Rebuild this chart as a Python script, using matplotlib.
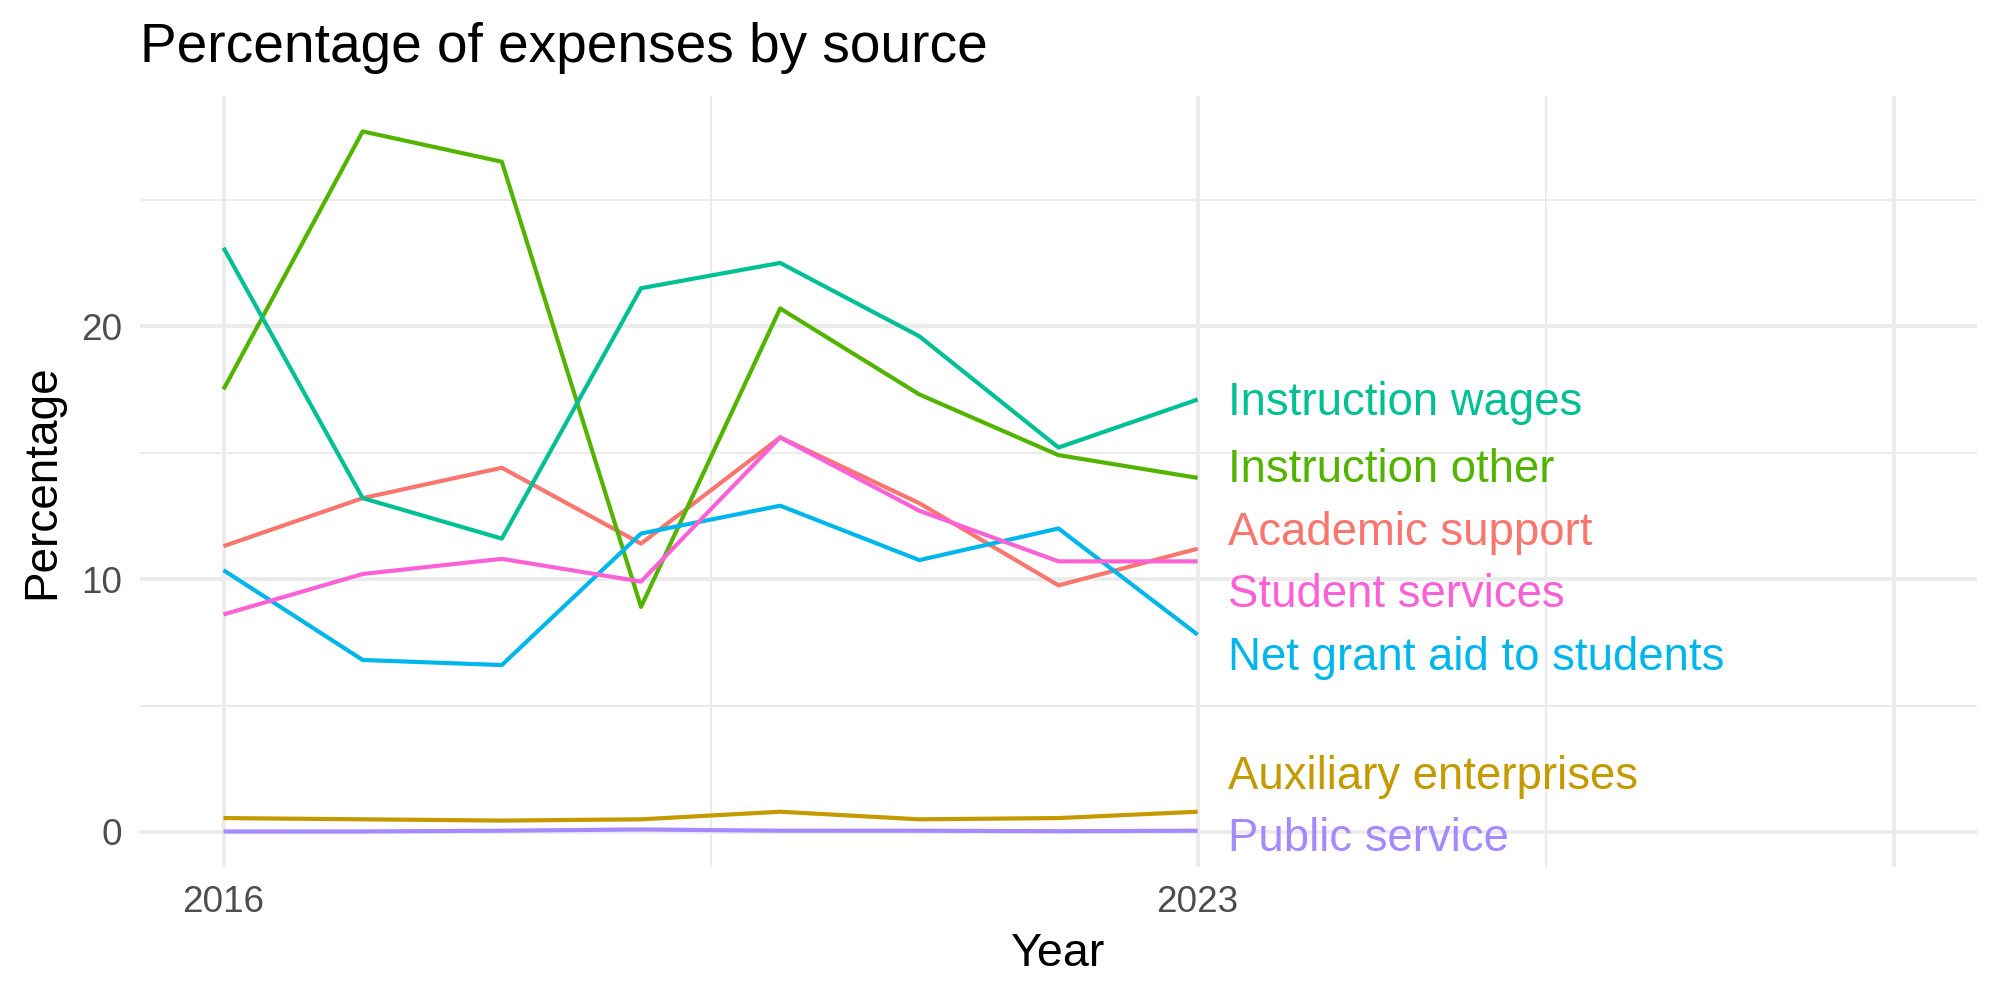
import matplotlib
matplotlib.use('Agg')
import matplotlib.pyplot as plt
from matplotlib import transforms

# data
years = [2016, 2017, 2018, 2019, 2020, 2021, 2022, 2023]
academic_support = [11.3, 13.2, 14.4, 11.4, 15.6, 13.0, 9.75, 11.2]
auxiliary_enterprises = [0.55, 0.5, 0.45, 0.5, 0.8, 0.5, 0.55, 0.8]
instruction_other = [17.5, 27.7, 26.5, 8.9, 20.7, 17.3, 14.9, 14.0]
instruction_wages = [23.1, 13.2, 11.6, 21.5, 22.5, 19.6, 15.2, 17.1]
net_grant_aid = [10.35, 6.8, 6.6, 11.8, 12.9, 10.75, 12.0, 7.8]
public_service = [0.02, 0.02, 0.05, 0.1, 0.05, 0.05, 0.03, 0.05]
student_services = [8.6, 10.2, 10.8, 9.9, 15.6, 12.7, 10.7, 10.7]

series_names = ['Academic support', 'Auxiliary enterprises', 'Instruction other',
	'Instruction wages', 'Net grant aid to students', 'Public service', 'Student services']
series_values = [academic_support, auxiliary_enterprises, instruction_other,
	instruction_wages, net_grant_aid, public_service, student_services]
colors = ['#F8766D', '#C49A00', '#53B400', '#00C094', '#00B6EB', '#A58AFF', '#FB61D7']

# repelled label heights (layout only)
label_y = [12.0, 2.36, 14.5, 17.15, 7.05, -0.12, 9.54]

def main():
	plt.rcParams['font.family'] = ['Liberation Sans', 'DejaVu Sans']
	fig = plt.figure(figsize=(10, 5), dpi=200)
	ax = fig.add_axes([0.07, 0.133, 0.9185, 0.771])

	for name, vals, col in zip(series_names, series_values, colors):
		ax.plot(years, vals, color=col, lw=1.5, solid_joinstyle='round', solid_capstyle='butt', zorder=3)

	# end labels, centred on cap height
	trans = transforms.offset_copy(ax.transData, fig=fig, y=-5.9, units='points')
	for name, y, col in zip(series_names, label_y, colors):
		ax.text(years[-1] + 0.22, y, name, color=col, fontsize=16.4, va='baseline', ha='left',
			transform=trans, clip_on=False, zorder=4)

	ax.set_xlim(2015.4, 2028.6)
	ax.set_ylim(-1.385, 29.1)
	ax.set_xticks([2016, 2023, 2028])
	ax.set_xticklabels(['2016', '2023', ''])
	ax.set_xticks([2019.5, 2025.5], minor=True)
	ax.set_yticks([0, 10, 20])
	ax.set_yticks([5, 15, 25], minor=True)

	ax.grid(which='major', color='#EBEBEB', lw=1.4, zorder=0)
	ax.grid(which='minor', color='#EBEBEB', lw=0.7, zorder=0)
	ax.set_axisbelow(True)
	for sp in ax.spines.values():
		sp.set_visible(False)
	ax.tick_params(which='both', length=0, labelsize=13.3, labelcolor='#4D4D4D')
	ax.tick_params(axis='x', pad=6.5)
	ax.tick_params(axis='y', pad=6.3)

	fig.text(0.07, 0.938, 'Percentage of expenses by source', fontsize=19.8, va='baseline', ha='left')
	fig.text(0.529, 0.046, 'Year', fontsize=16.8, va='center', ha='center')
	fig.text(0.021, 0.518, 'Percentage', fontsize=16.5, va='center', ha='center', rotation=90)

	fig.savefig('out.png', dpi=200, facecolor='white')

if __name__ == '__main__':
	main()
